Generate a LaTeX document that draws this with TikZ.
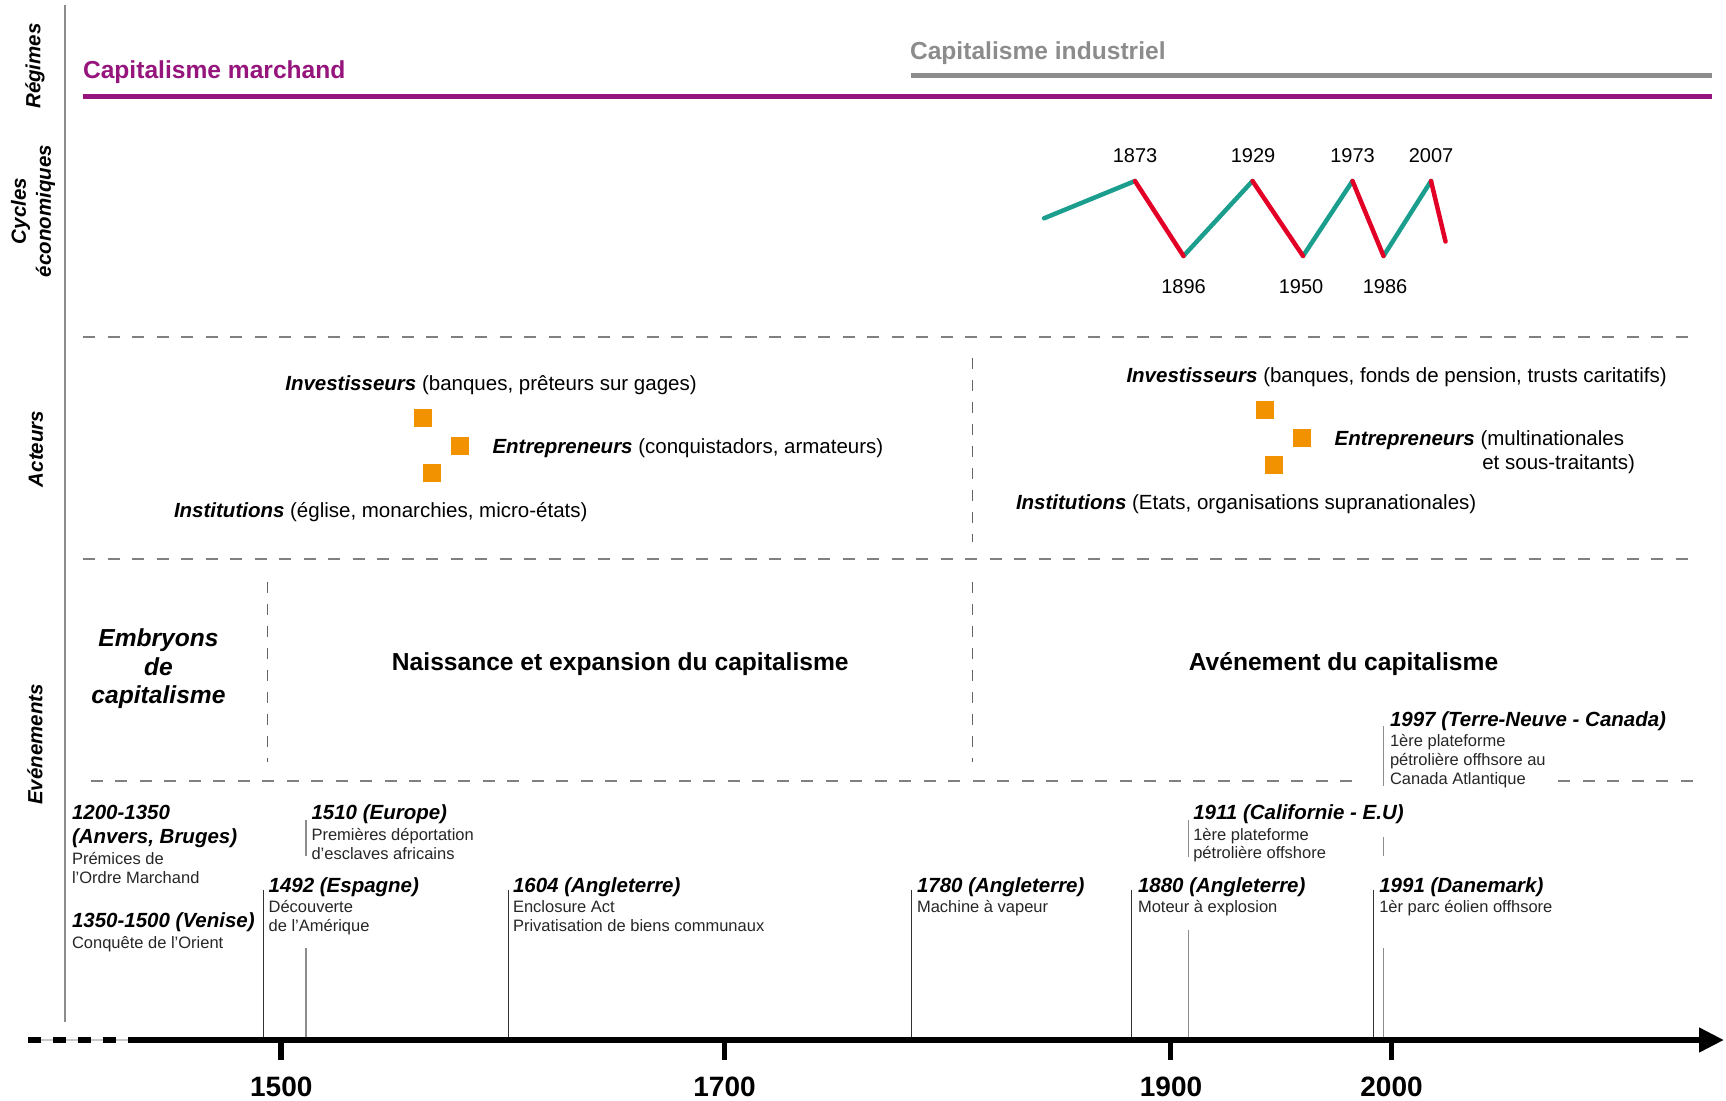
\documentclass[tikz,border=0pt]{standalone}
\usepackage{fontspec}
\setmainfont{Liberation Sans}
\usetikzlibrary{arrows.meta}
\definecolor{purplec}{RGB}{149,21,125}
\definecolor{grayc}{RGB}{140,140,140}
\definecolor{dashc}{RGB}{128,128,128}
\definecolor{vdashc}{RGB}{100,100,100}
\definecolor{tealc}{RGB}{27,158,142}
\definecolor{redc}{RGB}{226,0,38}
\definecolor{orangec}{RGB}{243,146,0}
\newcommand\myfs[1]{\fontsize{#1}{#1}\selectfont}
\begin{document}
\begin{tikzpicture}[x=1pt,y=-1pt,
  txt/.style={inner sep=0pt, outer sep=0pt, anchor=base west},
  evtitle/.style={txt, font=\myfs{20.5}\bfseries\itshape},
  evdesc/.style={txt, font=\myfs{16.5}, text=black!85},
  actor/.style={txt, font=\myfs{20.5}},
  sq/.style={fill=orangec, minimum size=18pt, inner sep=0pt, outer sep=0pt},
  side/.style={font=\fontsize{20.5}{25}\selectfont\bfseries\itshape, rotate=90, align=center, inner sep=0pt},
  hdash/.style={draw=dashc, line width=2pt, dash pattern=on 12pt off 12.5pt},
  vdash/.style={draw=vdashc, line width=1.2pt, dash pattern=on 11pt off 11pt},
  eline/.style={draw=black!80, line width=1pt},
  eline2/.style={draw=grayc, line width=1.3pt},
  rise/.style={draw=tealc, line width=4.5pt, line cap=round},
  fall/.style={draw=redc, line width=4.5pt, line cap=round},
  yr/.style={inner sep=0pt, anchor=base, font=\myfs{20}},
  head/.style={inner sep=0pt, anchor=base, font=\myfs{24.6}\bfseries},
  tick/.style={line width=5.7pt},
  ticklab/.style={inner sep=0pt, anchor=base, font=\myfs{28}\bfseries}
]
\useasboundingbox (0,0) rectangle (1726,1100);

% left axis
\coordinate (lt) at (65,5);
\coordinate (lb) at (65,1022);
\draw[line width=2pt, draw=grayc] (lt) -- (lb);

% side labels
\node[side] (lreg) at (35,66) {Régimes};
\node[side] (lcyc) at (33,211) {Cycles\\économiques};
\node[side] (lact) at (36,449) {Acteurs};
\node[side] (lev) at (35,744.5) {Evénements};

% regimes
\node[txt, font=\myfs{24.6}\bfseries, text=purplec] (rm) at (83,78.3) {Capitalisme marchand};
\coordinate (pm0) at (83,96.8);
\coordinate (pm1) at (1712,96.8);
\draw[line width=5pt, purplec] (pm0) -- (pm1);
\node[txt, font=\myfs{24.6}\bfseries, text=grayc] (ri) at (910,59) {Capitalisme industriel};
\coordinate (gi0) at (911,75.5);
\coordinate (gi1) at (1712,75.5);
\draw[line width=5.5pt, grayc] (gi0) -- (gi1);

% cycles
\coordinate (c0) at (1044,218.3);
\coordinate (p1) at (1135,181);
\coordinate (t1) at (1183.5,256);
\coordinate (p2) at (1252.5,181);
\coordinate (t2) at (1303,256);
\coordinate (p3) at (1352.5,181);
\coordinate (t3) at (1383.5,256);
\coordinate (p4) at (1431,181);
\coordinate (c9) at (1445.5,241.5);
\draw[rise] (c0) -- (p1);
\draw[rise] (t1) -- (p2);
\draw[rise] (t2) -- (p3);
\draw[rise] (t3) -- (p4);
\draw[fall] (p1) -- (t1);
\draw[fall] (p2) -- (t2);
\draw[fall] (p3) -- (t3);
\draw[fall] (p4) -- (c9);
\node[yr] (y1873) at (1135,162.7) {1873};
\node[yr] (y1929) at (1253,162.7) {1929};
\node[yr] (y1973) at (1352.5,162.7) {1973};
\node[yr] (y2007) at (1431,162.7) {2007};
\node[yr] (y1896) at (1183.5,293) {1896};
\node[yr] (y1950) at (1301,293) {1950};
\node[yr] (y1986) at (1385,293) {1986};

% horizontal separators
\draw[hdash] (83,336.5) -- (1695,336.5);
\draw[hdash] (83,559) -- (1695,559);
\draw[hdash] (90.7,781) -- (1362,781);
\draw[hdash] (1558,781) -- (1695,781);

% vertical separators
\draw[vdash] (972.5,358) -- (972.5,542);
\draw[vdash] (972.5,582) -- (972.5,762);
\draw[vdash] (267.5,581.7) -- (267.5,761.7);

% acteurs left
\node[actor] (inv1) at (285.3,390) {{\bfseries\itshape Investisseurs} (banques, prêteurs sur gages)};
\node[actor] (ent1) at (492.5,453.5) {{\bfseries\itshape Entrepreneurs} (conquistadors, armateurs)};
\node[actor] (ins1) at (174,517) {{\bfseries\itshape Institutions} (église, monarchies, micro-états)};
\node[sq] (s11) at (422.8,417.5) {};
\node[sq] (s12) at (460,445.5) {};
\node[sq] (s13) at (432,472.5) {};

% acteurs right
\node[actor] (inv2) at (1126.5,382.5) {{\bfseries\itshape Investisseurs} (banques, fonds de pension, trusts caritatifs)};
\node[actor] (ent2) at (1334.7,445) {{\bfseries\itshape Entrepreneurs} (multinationales};
\node[actor, anchor=base east] (ent2b) at (1635,469.5) {et sous-traitants)};
\node[actor] (ins2) at (1016,509) {{\bfseries\itshape Institutions} (Etats, organisations supranationales)};
\node[sq] (s21) at (1265,410) {};
\node[sq] (s22) at (1302,438) {};
\node[sq] (s23) at (1274,465) {};

% section headings
\node[head, font=\myfs{24.6}\bfseries\itshape] (emb1) at (158.5,646.5) {Embryons};
\node[head, font=\myfs{24.6}\bfseries\itshape] (emb2) at (158.5,675) {de};
\node[head, font=\myfs{24.6}\bfseries\itshape] (emb3) at (158.5,703.5) {capitalisme};
\node[head] (nais) at (620.3,670) {Naissance et expansion du capitalisme};
\node[head] (aven) at (1343.5,670) {Avénement du capitalisme};

% axis
\coordinate (ax0) at (28,1040);
\coordinate (ax1) at (116,1040);
\coordinate (ax2) at (127.7,1040);
\coordinate (ax3) at (1724,1040);
\draw[line width=1.2pt, gray!45] (ax0) -- (ax2);
\draw[line width=6pt, dash pattern=on 13pt off 12pt] (ax0) -- (ax1);
\draw[line width=6pt, -{Triangle[length=25pt,width=23.5pt]}] (ax2) -- (ax3);

% ticks
\draw[tick] (281.3,1040) -- (281.3,1060);
\draw[tick] (724.5,1040) -- (724.5,1060);
\draw[tick] (1170.5,1040) -- (1170.5,1060);
\draw[tick] (1391.5,1040) -- (1391.5,1060);
\node[ticklab] (l1500) at (281.3,1096.5) {1500};
\node[ticklab] (l1700) at (724.5,1096.5) {1700};
\node[ticklab] (l1900) at (1171,1096.5) {1900};
\node[ticklab] (l2000) at (1391.5,1096.5) {2000};

% event lines
\draw[eline] (263.3,890) -- (263.3,1037);
\draw[eline2] (306,820) -- (306,856);
\draw[eline2] (306,948) -- (306,1037);
\draw[eline] (508,890) -- (508,1037);
\draw[eline] (911.5,890) -- (911.5,1037);
\draw[eline] (1131.6,890) -- (1131.6,1037);
\draw[eline2] (1188.5,820) -- (1188.5,856.7);
\draw[eline2] (1188.5,930) -- (1188.5,1037);
\draw[eline] (1373.8,890) -- (1373.8,1037);
\draw[eline2] (1383.5,726) -- (1383.5,785.5);
\draw[eline2] (1383.5,837) -- (1383.5,856);
\draw[eline2] (1383.5,948) -- (1383.5,1037);

% events
\node[evtitle] (e1a) at (72,819.5) {1200-1350};
\node[evtitle] (e1b) at (72,843.5) {(Anvers, Bruges)};
\node[evdesc] (e1c) at (72,864) {Prémices de};
\node[evdesc] (e1d) at (72,883.5) {l’Ordre Marchand};
\node[evtitle] (e2a) at (72,927.5) {1350-1500 (Venise)};
\node[evdesc] (e2b) at (72,948) {Conquête de l’Orient};

\node[evtitle] (e3a) at (311.5,819.5) {1510 (Europe)};
\node[evdesc] (e3b) at (311.5,840) {Premières déportation};
\node[evdesc] (e3c) at (311.5,859) {d’esclaves africains};

\node[evtitle] (e4a) at (268.6,892) {1492 (Espagne)};
\node[evdesc] (e4b) at (268.6,912) {Découverte};
\node[evdesc] (e4c) at (268.6,931.7) {de l’Amérique};

\node[evtitle] (e5a) at (513,892) {1604 (Angleterre)};
\node[evdesc] (e5b) at (513,912) {Enclosure Act};
\node[evdesc] (e5c) at (513,931.7) {Privatisation de biens communaux};

\node[evtitle] (e6a) at (917,892) {1780 (Angleterre)};
\node[evdesc] (e6b) at (917,912) {Machine à vapeur};

\node[evtitle] (e7a) at (1138,892) {1880 (Angleterre)};
\node[evdesc] (e7b) at (1138,912) {Moteur à explosion};

\node[evtitle] (e8a) at (1193.3,819) {1911 (Californie - E.U)};
\node[evdesc] (e8b) at (1193.3,840) {1ère plateforme};
\node[evdesc] (e8c) at (1193.3,858.7) {pétrolière offshore};

\node[evtitle] (e9a) at (1379.3,892) {1991 (Danemark)};
\node[evdesc] (e9b) at (1379.3,912) {1èr parc éolien offhsore};

\node[evtitle] (e10a) at (1390,726) {1997 (Terre-Neuve - Canada)};
\node[evdesc] (e10b) at (1390,746) {1ère plateforme};
\node[evdesc] (e10c) at (1390,765.5) {pétrolière offhsore au};
\node[evdesc] (e10d) at (1390,784.5) {Canada Atlantique};
\end{tikzpicture}
\end{document}
